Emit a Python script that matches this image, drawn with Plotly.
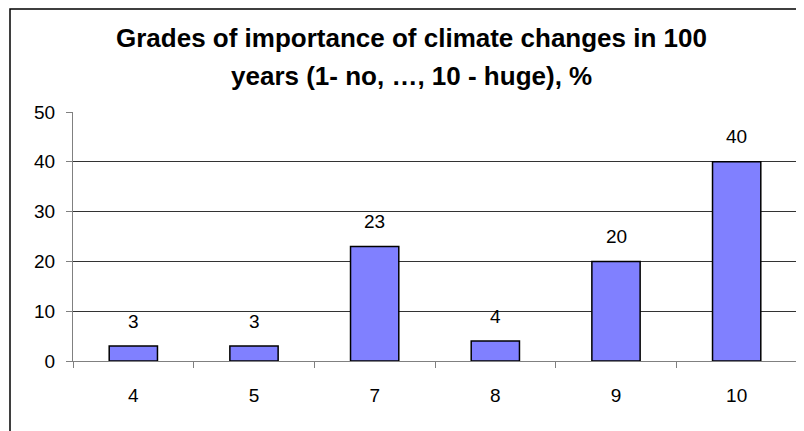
import plotly.graph_objects as go

categories = ["4", "5", "7", "8", "9", "10"]
values = [3, 3, 23, 4, 20, 40]
y_ticks = [0, 10, 20, 30, 40, 50]
title_line1 = "Grades of importance of climate changes in 100"
title_line2 = "years (1- no, …, 10 - huge), %"

FONT = "Arial, Liberation Sans, sans-serif"

# the page adds an 8px body margin, so the figure is drawn 8px smaller
W, H = 796, 423
L, R, T, B = 65, 7, 104, 70
PW, PH = W - L - R, H - T - B

fig = go.Figure()
fig.add_trace(go.Bar(
    x=categories, y=values,
    marker=dict(color="#8080FF", line=dict(color="#000000", width=1.5)),
    hoverinfo="skip",
))

for i, v in enumerate(values):
    fig.add_annotation(x=i, y=v, text=str(v), showarrow=False,
                       xref="x", yref="y", yanchor="middle", yshift=25,
                       font=dict(family=FONT, size=19, color="#000000"))

title_cx = (403.5 - L) / PW
for txt, cy in [(title_line1, 29.5), (title_line2, 67.7)]:
    fig.add_annotation(x=title_cx, y=1 + (T - cy) / PH, xref="paper", yref="paper",
                       text="<b>" + txt + "</b>", showarrow=False,
                       xanchor="center", yanchor="middle",
                       font=dict(family=FONT, size=26, color="#000000"))

fig.update_layout(
    width=W, height=H,
    margin=dict(l=L, r=R, t=T, b=B),
    paper_bgcolor="white", plot_bgcolor="white",
    bargap=0.6,
    showlegend=False,
    font=dict(family=FONT, size=19, color="#000000"),
    xaxis=dict(type="category", range=[-0.5, 5.5], showline=True, linecolor="#808080", linewidth=1,
               ticks="outside", ticklen=6, tickcolor="#808080", tickson="boundaries",
               showgrid=False, ticklabelstandoff=17,
               tickfont=dict(family=FONT, size=19, color="#000000")),
    yaxis=dict(range=[0, 50], tickvals=y_ticks, showline=True, linecolor="#808080",
               linewidth=1, ticks="outside", ticklen=6, tickcolor="#808080",
               showgrid=True, gridcolor="#333333", gridwidth=1, zeroline=False,
               ticklabelstandoff=7,
               tickfont=dict(family=FONT, size=19, color="#000000")),
)

fig.add_shape(type="rect", xref="paper", yref="paper",
              x0=(2 - L) / PW, x1=(804 - L) / PW, y0=-0.4, y1=1 + (T - 1) / PH,
              line=dict(color="#000000", width=1.5), fillcolor="rgba(0,0,0,0)",
              layer="below")

fig.write_html("out.html")
